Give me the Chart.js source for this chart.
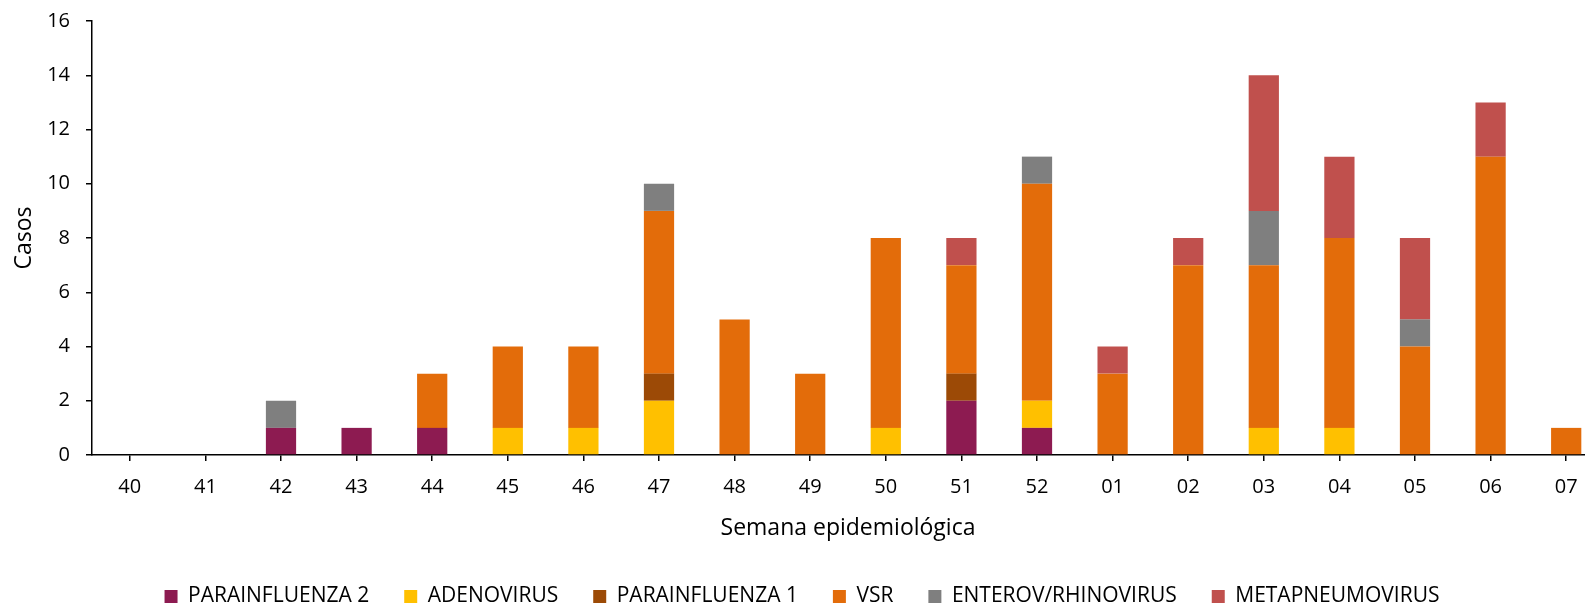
<!DOCTYPE html>
<html lang="es">
<head>
<meta charset="UTF-8" />
<title>Casos por semana epidemiológica</title>
<script src="https://cdn.jsdelivr.net/npm/chart.js@4/dist/chart.umd.min.js"></script>
<style>
  body { margin:0; background:#FFFFFF; overflow:hidden; }
  #chart { display:block; }
</style>
</head>
<body>
<canvas id="chart" width="1604" height="606"></canvas>
<script>
// semanas epidemiológicas
const semanas = ['40','41','42','43','44','45','46','47','48','49','50','51','52','01','02','03','04','05','06','07'];

// casos por virus (de abajo hacia arriba en la pila)
const parainfluenza2 = [0,0,1,1,1,0,0,0,0,0,0,2,1,0,0,0,0,0,0,0];
const adenovirus     = [0,0,0,0,0,1,1,2,0,0,1,0,1,0,0,1,1,0,0,0];
const parainfluenza1 = [0,0,0,0,0,0,0,1,0,0,0,1,0,0,0,0,0,0,0,0];
const vsr            = [0,0,0,0,2,3,3,6,5,3,7,4,8,3,7,6,7,4,11,1];
const enterovirus    = [0,0,1,0,0,0,0,1,0,0,0,0,1,0,0,2,0,1,0,0];
const metapneumo     = [0,0,0,0,0,0,0,0,0,0,0,1,0,1,1,5,3,3,2,0];

const yTicks = [0,2,4,6,8,10,12,14,16];

const FONT = 'Open Sans';

function serie(label, data, color) {
	return {
		label: label,
		data: data,
		backgroundColor: color,
		borderWidth: 0
	};
}

const ctx = document.getElementById('chart');

new Chart(ctx, {
	type: 'bar',
	data: {
		labels: semanas,
		datasets: [
			serie('PARAINFLUENZA 2', parainfluenza2, '#8D1B51'),
			serie('ADENOVIRUS', adenovirus, '#FFC000'),
			serie('PARAINFLUENZA 1', parainfluenza1, '#9C4A06'),
			serie('VSR', vsr, '#E36C0A'),
			serie('ENTEROV/RHINOVIRUS', enterovirus, '#7F7F7F'),
			serie('METAPNEUMOVIRUS', metapneumo, '#C0504D')
		]
	},
	options: {
		responsive: false,
		animation: false,
		layout: { padding: { top: 21, right: 0, bottom: 0, left: 0 } },
		datasets: { bar: { categoryPercentage: 1.0, barPercentage: 0.4 } },
		scales: {
			x: {
				stacked: true,
				grid: { display: true, drawOnChartArea: false, drawTicks: true, offset: false, tickLength: 6, color: '#000', lineWidth: 1.5 },
				border: { display: true, color: '#000', width: 1.5 },
				ticks: { color: '#000', padding: 14, font: { family: FONT, size: 20 } },
				title: { display: true, text: 'Semana epidemiológica', color: '#000', font: { family: FONT, size: 23 }, padding: { top: 0, bottom: 9 } },
				afterFit: function(scale) { scale.height = 96; }
			},
			y: {
				stacked: true,
				min: 0,
				max: 16,
				afterBuildTicks: function(scale) { scale.ticks = yTicks.map(v => ({ value: v })); },
				grid: { display: true, drawOnChartArea: false, drawTicks: true, tickLength: 6, color: '#000', lineWidth: 1.5 },
				border: { display: true, color: '#000', width: 1.5 },
				ticks: { color: '#000', padding: 16, font: { family: FONT, size: 20 } },
				title: { display: true, text: 'Casos', color: '#000', font: { family: FONT, size: 23 }, padding: { top: 11, bottom: 0 } },
				afterFit: function(scale) {
					scale.width = 92;
					scale.paddingTop = 0;
				}
			}
		},
		plugins: {
			legend: {
				position: 'bottom',
				maxHeight: 55,
				labels: {
					color: '#000',
					boxWidth: 13,
					boxHeight: 13,
					padding: 35,
					font: { family: FONT, size: 21 }
				}
			},
			tooltip: { enabled: false }
		}
	}
});
</script>
</body>
</html>
